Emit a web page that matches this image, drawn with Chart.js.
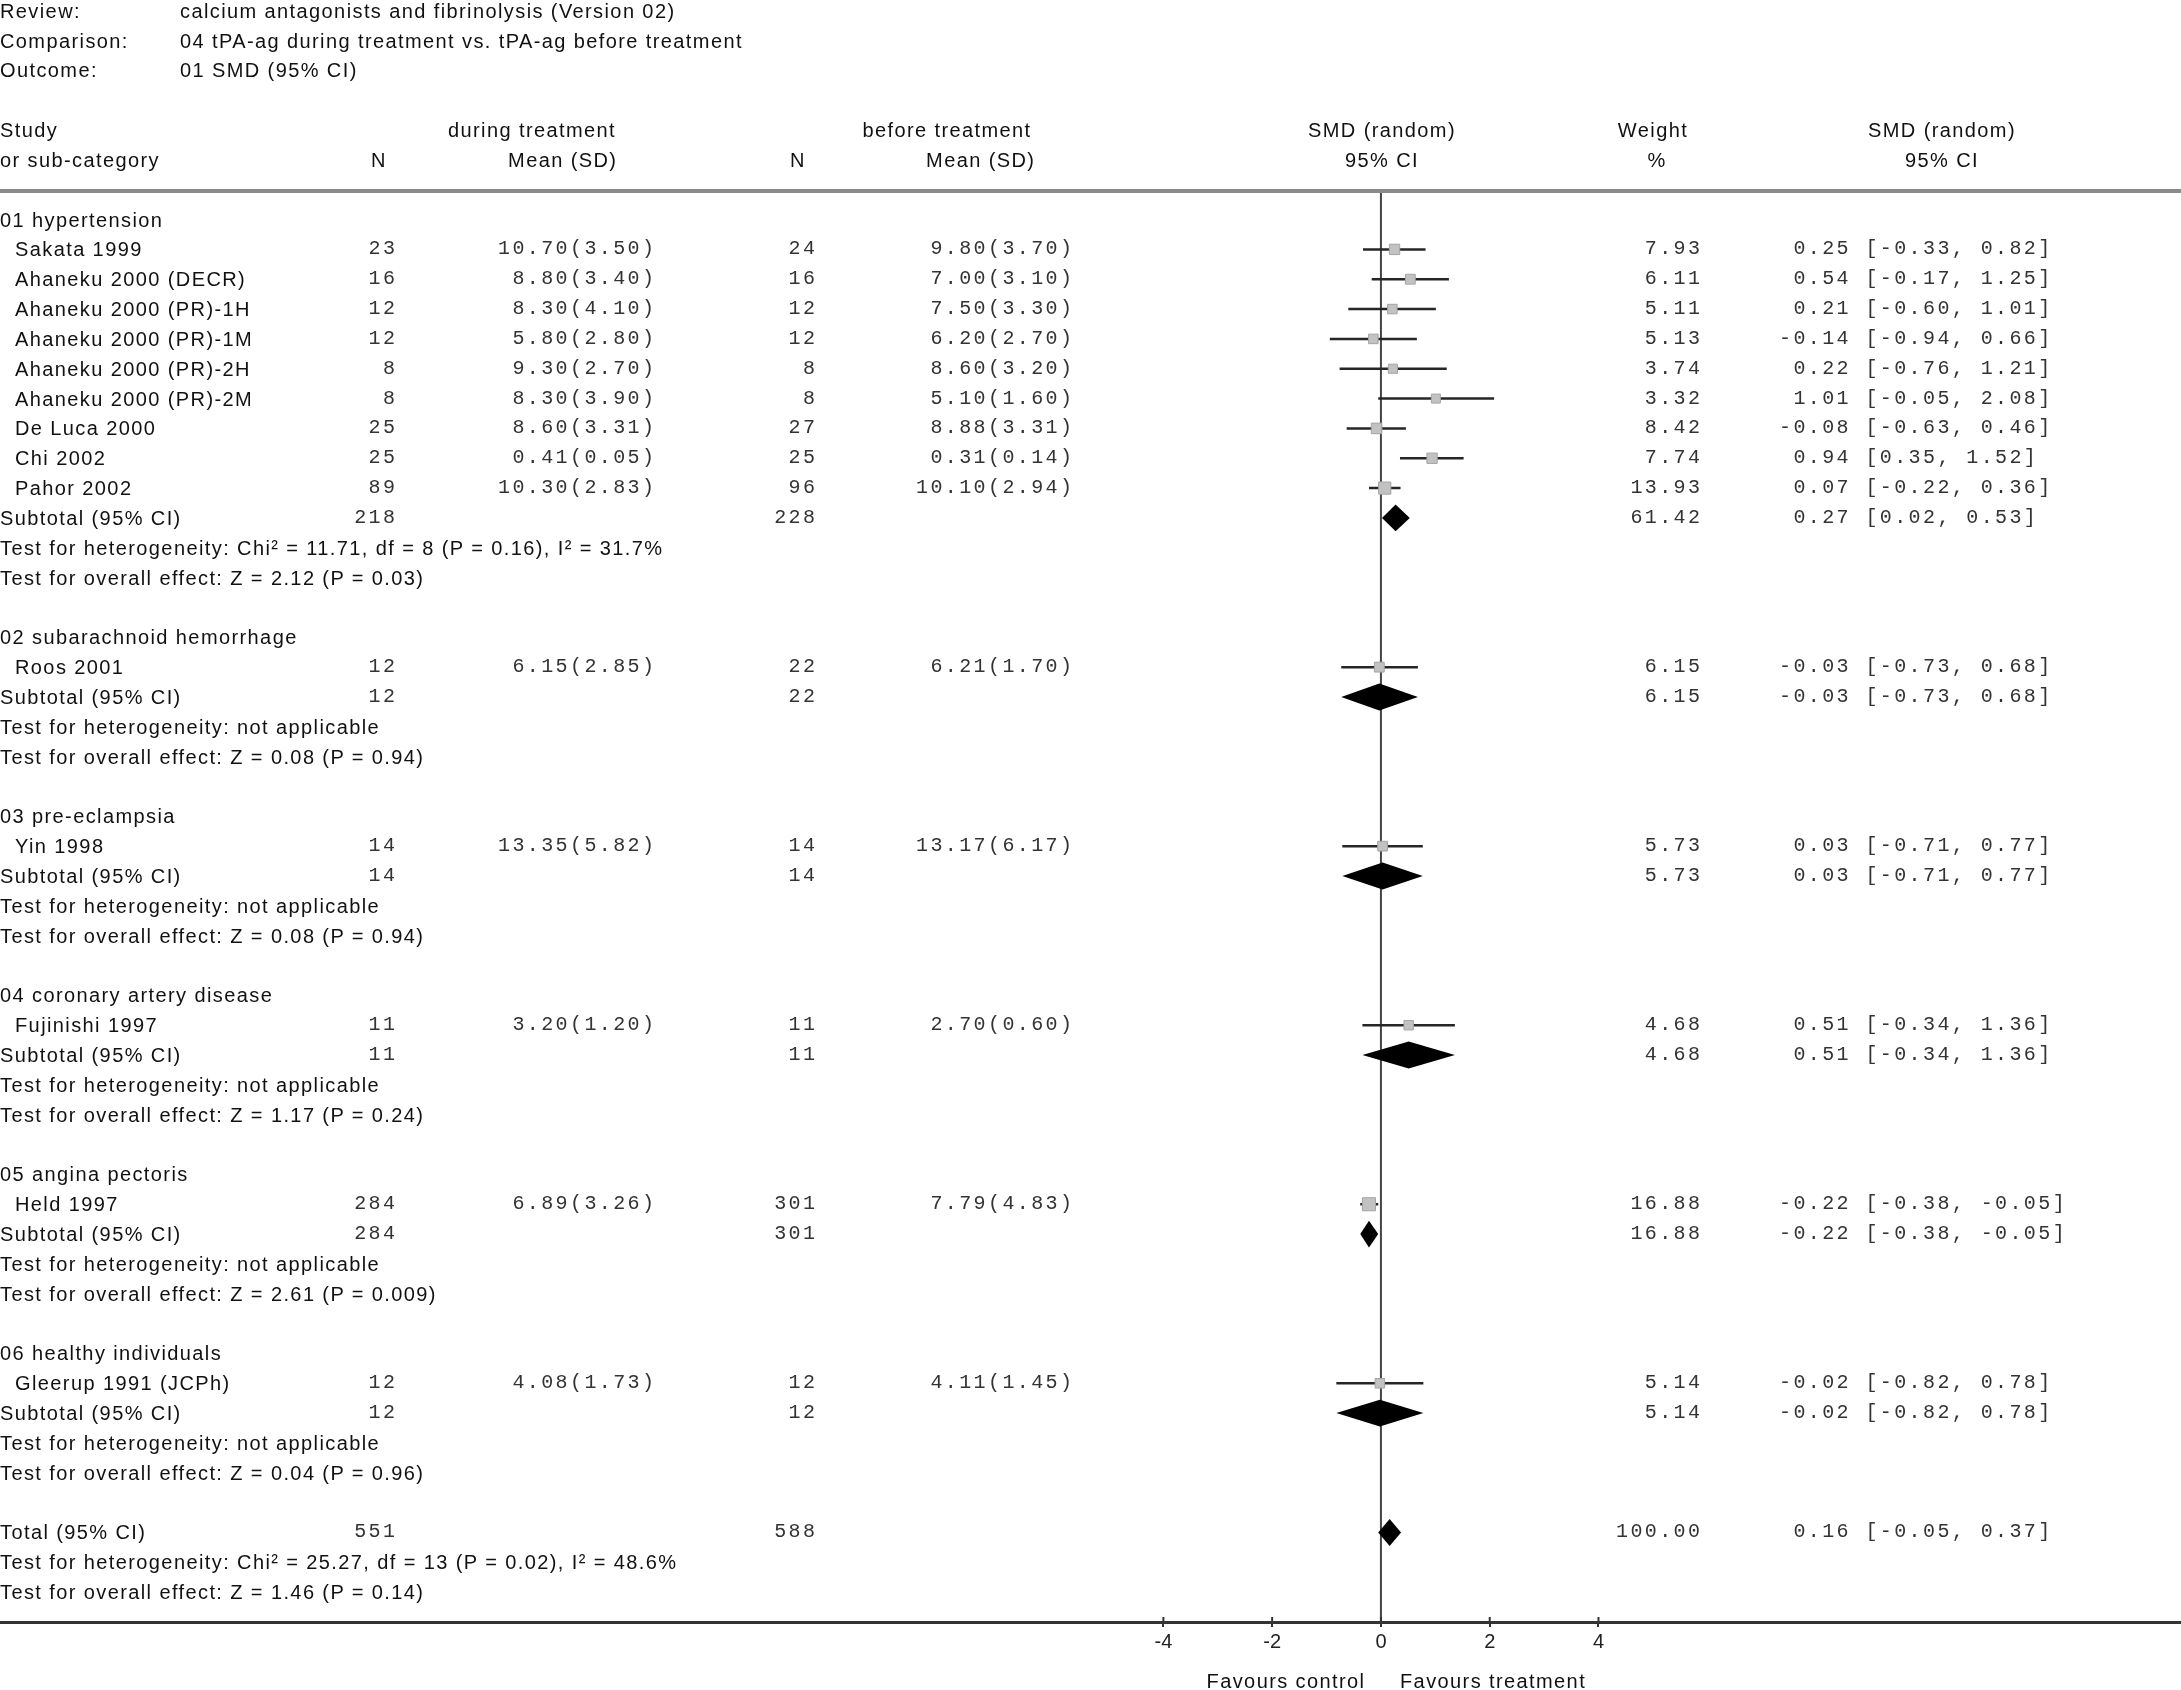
<!DOCTYPE html>
<html>
<head>
<meta charset="utf-8">
<script src="https://cdn.jsdelivr.net/npm/chart.js@4.4.1/dist/chart.umd.min.js"></script>
<style>
  body { margin: 0; background: #fff; }
  #wrap { position: relative; width: 2181px; height: 1690px; overflow: hidden; }
  #plot { position: absolute; left: 0; top: 0; }
  .t { position: absolute; white-space: pre; line-height: 1; color: #111;
       font-family: "Liberation Sans", Arial, sans-serif; font-size: 20px; letter-spacing: 1.4px; }
  .m { font-family: "Liberation Mono", monospace; font-size: 20px; letter-spacing: 2.4px; color: #333; }
  .rule { position: absolute; left: 0; top: 189px; width: 2181px; height: 4px; background: #8a8a8a; }
</style>
</head>
<body>
<div id="wrap">
  <canvas id="plot" width="2181" height="1690"></canvas>
  <div class="rule"></div>
</div>
<script>
// header
const review = 'calcium antagonists and fibrinolysis (Version 02)';
const comparison = '04 tPA-ag during treatment vs. tPA-ag before treatment';
const outcome = '01 SMD (95% CI)';

// subgroups
const groups = ['01 hypertension', '02 subarachnoid hemorrhage', '03 pre-eclampsia',
  '04 coronary artery disease', '05 angina pectoris', '06 healthy individuals'];
const subN1 = [218, 12, 14, 11, 284, 12];
const subN2 = [228, 22, 14, 11, 301, 12];
const subWeight = [61.42, 6.15, 5.73, 4.68, 16.88, 5.14];
const subSmd = [0.27, -0.03, 0.03, 0.51, -0.22, -0.02];
const subLo = [0.02, -0.73, -0.71, -0.34, -0.38, -0.82];
const subHi = [0.53, 0.68, 0.77, 1.36, -0.05, 0.78];
const subHet = ['Chi² = 11.71, df = 8 (P = 0.16), I² = 31.7%', 'not applicable', 'not applicable',
  'not applicable', 'not applicable', 'not applicable'];
const subZ = ['Z = 2.12 (P = 0.03)', 'Z = 0.08 (P = 0.94)', 'Z = 0.08 (P = 0.94)',
  'Z = 1.17 (P = 0.24)', 'Z = 2.61 (P = 0.009)', 'Z = 0.04 (P = 0.96)'];

// studies
const studies = ['Sakata 1999', 'Ahaneku 2000 (DECR)', 'Ahaneku 2000 (PR)-1H', 'Ahaneku 2000 (PR)-1M',
  'Ahaneku 2000 (PR)-2H', 'Ahaneku 2000 (PR)-2M', 'De Luca 2000', 'Chi 2002', 'Pahor 2002',
  'Roos 2001', 'Yin 1998', 'Fujinishi 1997', 'Held 1997', 'Gleerup 1991 (JCPh)'];
const studyGroup = [0, 0, 0, 0, 0, 0, 0, 0, 0, 1, 2, 3, 4, 5];
const nDuring = [23, 16, 12, 12, 8, 8, 25, 25, 89, 12, 14, 11, 284, 12];
const meanDuring = [10.70, 8.80, 8.30, 5.80, 9.30, 8.30, 8.60, 0.41, 10.30, 6.15, 13.35, 3.20, 6.89, 4.08];
const sdDuring = [3.50, 3.40, 4.10, 2.80, 2.70, 3.90, 3.31, 0.05, 2.83, 2.85, 5.82, 1.20, 3.26, 1.73];
const nBefore = [24, 16, 12, 12, 8, 8, 27, 25, 96, 22, 14, 11, 301, 12];
const meanBefore = [9.80, 7.00, 7.50, 6.20, 8.60, 5.10, 8.88, 0.31, 10.10, 6.21, 13.17, 2.70, 7.79, 4.11];
const sdBefore = [3.70, 3.10, 3.30, 2.70, 3.20, 1.60, 3.31, 0.14, 2.94, 1.70, 6.17, 0.60, 4.83, 1.45];
const weight = [7.93, 6.11, 5.11, 5.13, 3.74, 3.32, 8.42, 7.74, 13.93, 6.15, 5.73, 4.68, 16.88, 5.14];
const smd = [0.25, 0.54, 0.21, -0.14, 0.22, 1.01, -0.08, 0.94, 0.07, -0.03, 0.03, 0.51, -0.22, -0.02];
const lo = [-0.33, -0.17, -0.60, -0.94, -0.76, -0.05, -0.63, 0.35, -0.22, -0.73, -0.71, -0.34, -0.38, -0.82];
const hi = [0.82, 1.25, 1.01, 0.66, 1.21, 2.08, 0.46, 1.52, 0.36, 0.68, 0.77, 1.36, -0.05, 0.78];

// overall
const totalN1 = 551, totalN2 = 588, totalWeight = 100.00;
const totalSmd = 0.16, totalLo = -0.05, totalHi = 0.37;
const totalHet = 'Chi² = 25.27, df = 13 (P = 0.02), I² = 48.6%';
const totalZ = 'Z = 1.46 (P = 0.14)';

// axis
const xTicks = [-4, -2, 0, 2, 4];
const xMin = -25.39, xMax = 14.71;

// work out which row everything sits on
const studyRow = [], subRow = [], groupRow = [];
let r = 0;
groups.forEach((g, gi) => {
  groupRow[gi] = r++;
  studyGroup.forEach((sg, si) => { if (sg === gi) studyRow[si] = r++; });
  subRow[gi] = r;
  r += 4; // subtotal, heterogeneity, overall effect, blank
});
const totalRow = r;

const f2 = v => v.toFixed(2);
const ciText = (e, l, h) => f2(e).padStart(5) + ' [' + f2(l) + ', ' + f2(h) + ']';

const forestPlugin = {
  id: 'forest',
  beforeDatasetsDraw(chart) {
    const { ctx, chartArea, scales: { x } } = chart;
    const x0 = x.getPixelForValue(0);
    ctx.save();
    ctx.strokeStyle = '#444';
    ctx.lineWidth = 2;
    ctx.beginPath();
    ctx.moveTo(x0, chartArea.top);
    ctx.lineTo(x0, chartArea.bottom);
    ctx.stroke();
    // tick marks poke above the axis line too
    ctx.strokeStyle = '#333';
    x.ticks.forEach(t => {
      const px = x.getPixelForValue(t.value);
      ctx.beginPath();
      ctx.moveTo(px, chartArea.bottom - 5);
      ctx.lineTo(px, chartArea.bottom);
      ctx.stroke();
    });
    ctx.restore();
  },
  afterDatasetsDraw(chart) {
    const { ctx, scales: { x, y } } = chart;
    const diamond = (e, l, h, row) => {
      const yc = y.getPixelForValue(row);
      const dy = y.getPixelForValue(row + 0.45) - yc;
      ctx.beginPath();
      ctx.moveTo(x.getPixelForValue(l), yc);
      ctx.lineTo(x.getPixelForValue(e), yc - dy);
      ctx.lineTo(x.getPixelForValue(h), yc);
      ctx.lineTo(x.getPixelForValue(e), yc + dy);
      ctx.closePath();
      ctx.fill();
    };
    ctx.save();
    ctx.fillStyle = '#000';
    groups.forEach((g, gi) => diamond(subSmd[gi], subLo[gi], subHi[gi], subRow[gi]));
    diamond(totalSmd, totalLo, totalHi, totalRow);
    ctx.restore();
  }
};

const ciSets = studies.map((s, i) => ({
  type: 'scatter',
  showLine: true,
  data: [{ x: lo[i], y: studyRow[i] }, { x: hi[i], y: studyRow[i] }],
  borderColor: '#262626',
  borderWidth: 2.5,
  pointRadius: 0,
  order: 1
}));

const squareSet = {
  type: 'scatter',
  data: smd.map((v, i) => ({ x: v, y: studyRow[i] })),
  pointStyle: 'rect',
  pointRadius: weight.map(w => (8 + w * 0.3) / Math.SQRT2),
  backgroundColor: '#c2c2c2',
  borderColor: '#a4a4a4',
  borderWidth: 1,
  order: 0
};

const chart = new Chart(document.getElementById('plot'), {
  type: 'scatter',
  data: { datasets: [squareSet, ...ciSets] },
  options: {
    responsive: false,
    animation: false,
    events: [],
    layout: { autoPadding: false, padding: { top: 190, bottom: 20, left: 0, right: 0 } },
    plugins: { legend: { display: false }, tooltip: { enabled: false } },
    scales: {
      x: {
        type: 'linear',
        min: xMin,
        max: xMax,
        afterBuildTicks: a => { a.ticks = xTicks.map(v => ({ value: v })); },
        afterFit: a => { a.height = 48; },
        grid: { drawOnChartArea: false, drawTicks: true, tickLength: 5, color: '#333', lineWidth: 2 },
        border: { display: true, color: '#333', width: 3 },
        ticks: { font: { family: 'Liberation Sans', size: 20 }, color: '#222', padding: 3, maxRotation: 0, autoSkip: false }
      },
      y: { type: 'linear', display: false, reverse: true, min: -0.99, max: 47.0 }
    }
  },
  plugins: [forestPlugin]
});

// table text, placed on the chart's own row positions
const wrap = document.getElementById('wrap');
const W = 2181;
function put(text, px, py, align, mono) {
  const d = document.createElement('div');
  d.className = mono ? 't m' : 't';
  d.textContent = text;
  d.style.top = py + 'px';
  if (align === 'right') {
    d.style.right = (W - px - (mono ? 2.4 : 1.4)) + 'px';
    d.style.transform = 'translateY(-50%)';
  } else if (align === 'center') {
    d.style.left = px + 'px';
    d.style.transform = 'translate(-50%, -50%)';
  } else {
    d.style.left = px + 'px';
    d.style.transform = 'translateY(-50%)';
  }
  wrap.appendChild(d);
}
const rowY = i => chart.scales.y.getPixelForValue(i);

put('Review:', 0, 11, 'left');
put(review, 180, 11, 'left');
put('Comparison:', 0, 41, 'left');
put(comparison, 180, 41, 'left');
put('Outcome:', 0, 70, 'left');
put(outcome, 180, 70, 'left');

put('Study', 0, 130, 'left');
put('or sub-category', 0, 160, 'left');
put('during treatment', 532, 130, 'center');
put('N', 379, 160, 'center');
put('Mean (SD)', 616, 160, 'right');
put('before treatment', 947, 130, 'center');
put('N', 798, 160, 'center');
put('Mean (SD)', 1034, 160, 'right');
put('SMD (random)', 1382, 130, 'center');
put('95% CI', 1382, 160, 'center');
put('Weight', 1653, 130, 'center');
put('%', 1657, 160, 'center');
put('SMD (random)', 1942, 130, 'center');
put('95% CI', 1942, 160, 'center');

groups.forEach((g, gi) => put(g, 0, rowY(groupRow[gi]), 'left'));
studies.forEach((s, i) => {
  const yy = rowY(studyRow[i]);
  put(s, 15, yy, 'left');
  put(String(nDuring[i]), 395, yy, 'right', true);
  put(f2(meanDuring[i]) + '(' + f2(sdDuring[i]) + ')', 654, yy, 'right', true);
  put(String(nBefore[i]), 815, yy, 'right', true);
  put(f2(meanBefore[i]) + '(' + f2(sdBefore[i]) + ')', 1072, yy, 'right', true);
  put(f2(weight[i]), 1700, yy, 'right', true);
  put(ciText(smd[i], lo[i], hi[i]), 1779, yy, 'left', true);
});
groups.forEach((g, gi) => {
  const sr = subRow[gi];
  put('Subtotal (95% CI)', 0, rowY(sr), 'left');
  put(String(subN1[gi]), 395, rowY(sr), 'right', true);
  put(String(subN2[gi]), 815, rowY(sr), 'right', true);
  put(f2(subWeight[gi]), 1700, rowY(sr), 'right', true);
  put(ciText(subSmd[gi], subLo[gi], subHi[gi]), 1779, rowY(sr), 'left', true);
  put('Test for heterogeneity: ' + subHet[gi], 0, rowY(sr + 1), 'left');
  put('Test for overall effect: ' + subZ[gi], 0, rowY(sr + 2), 'left');
});
put('Total (95% CI)', 0, rowY(totalRow), 'left');
put(String(totalN1), 395, rowY(totalRow), 'right', true);
put(String(totalN2), 815, rowY(totalRow), 'right', true);
put(f2(totalWeight), 1700, rowY(totalRow), 'right', true);
put(ciText(totalSmd, totalLo, totalHi), 1779, rowY(totalRow), 'left', true);
put('Test for heterogeneity: ' + totalHet, 0, rowY(totalRow + 1), 'left');
put('Test for overall effect: ' + totalZ, 0, rowY(totalRow + 2), 'left');

put('Favours control', 1364, 1681, 'right');
put('Favours treatment', 1400, 1681, 'left');
</script>
</body>
</html>
